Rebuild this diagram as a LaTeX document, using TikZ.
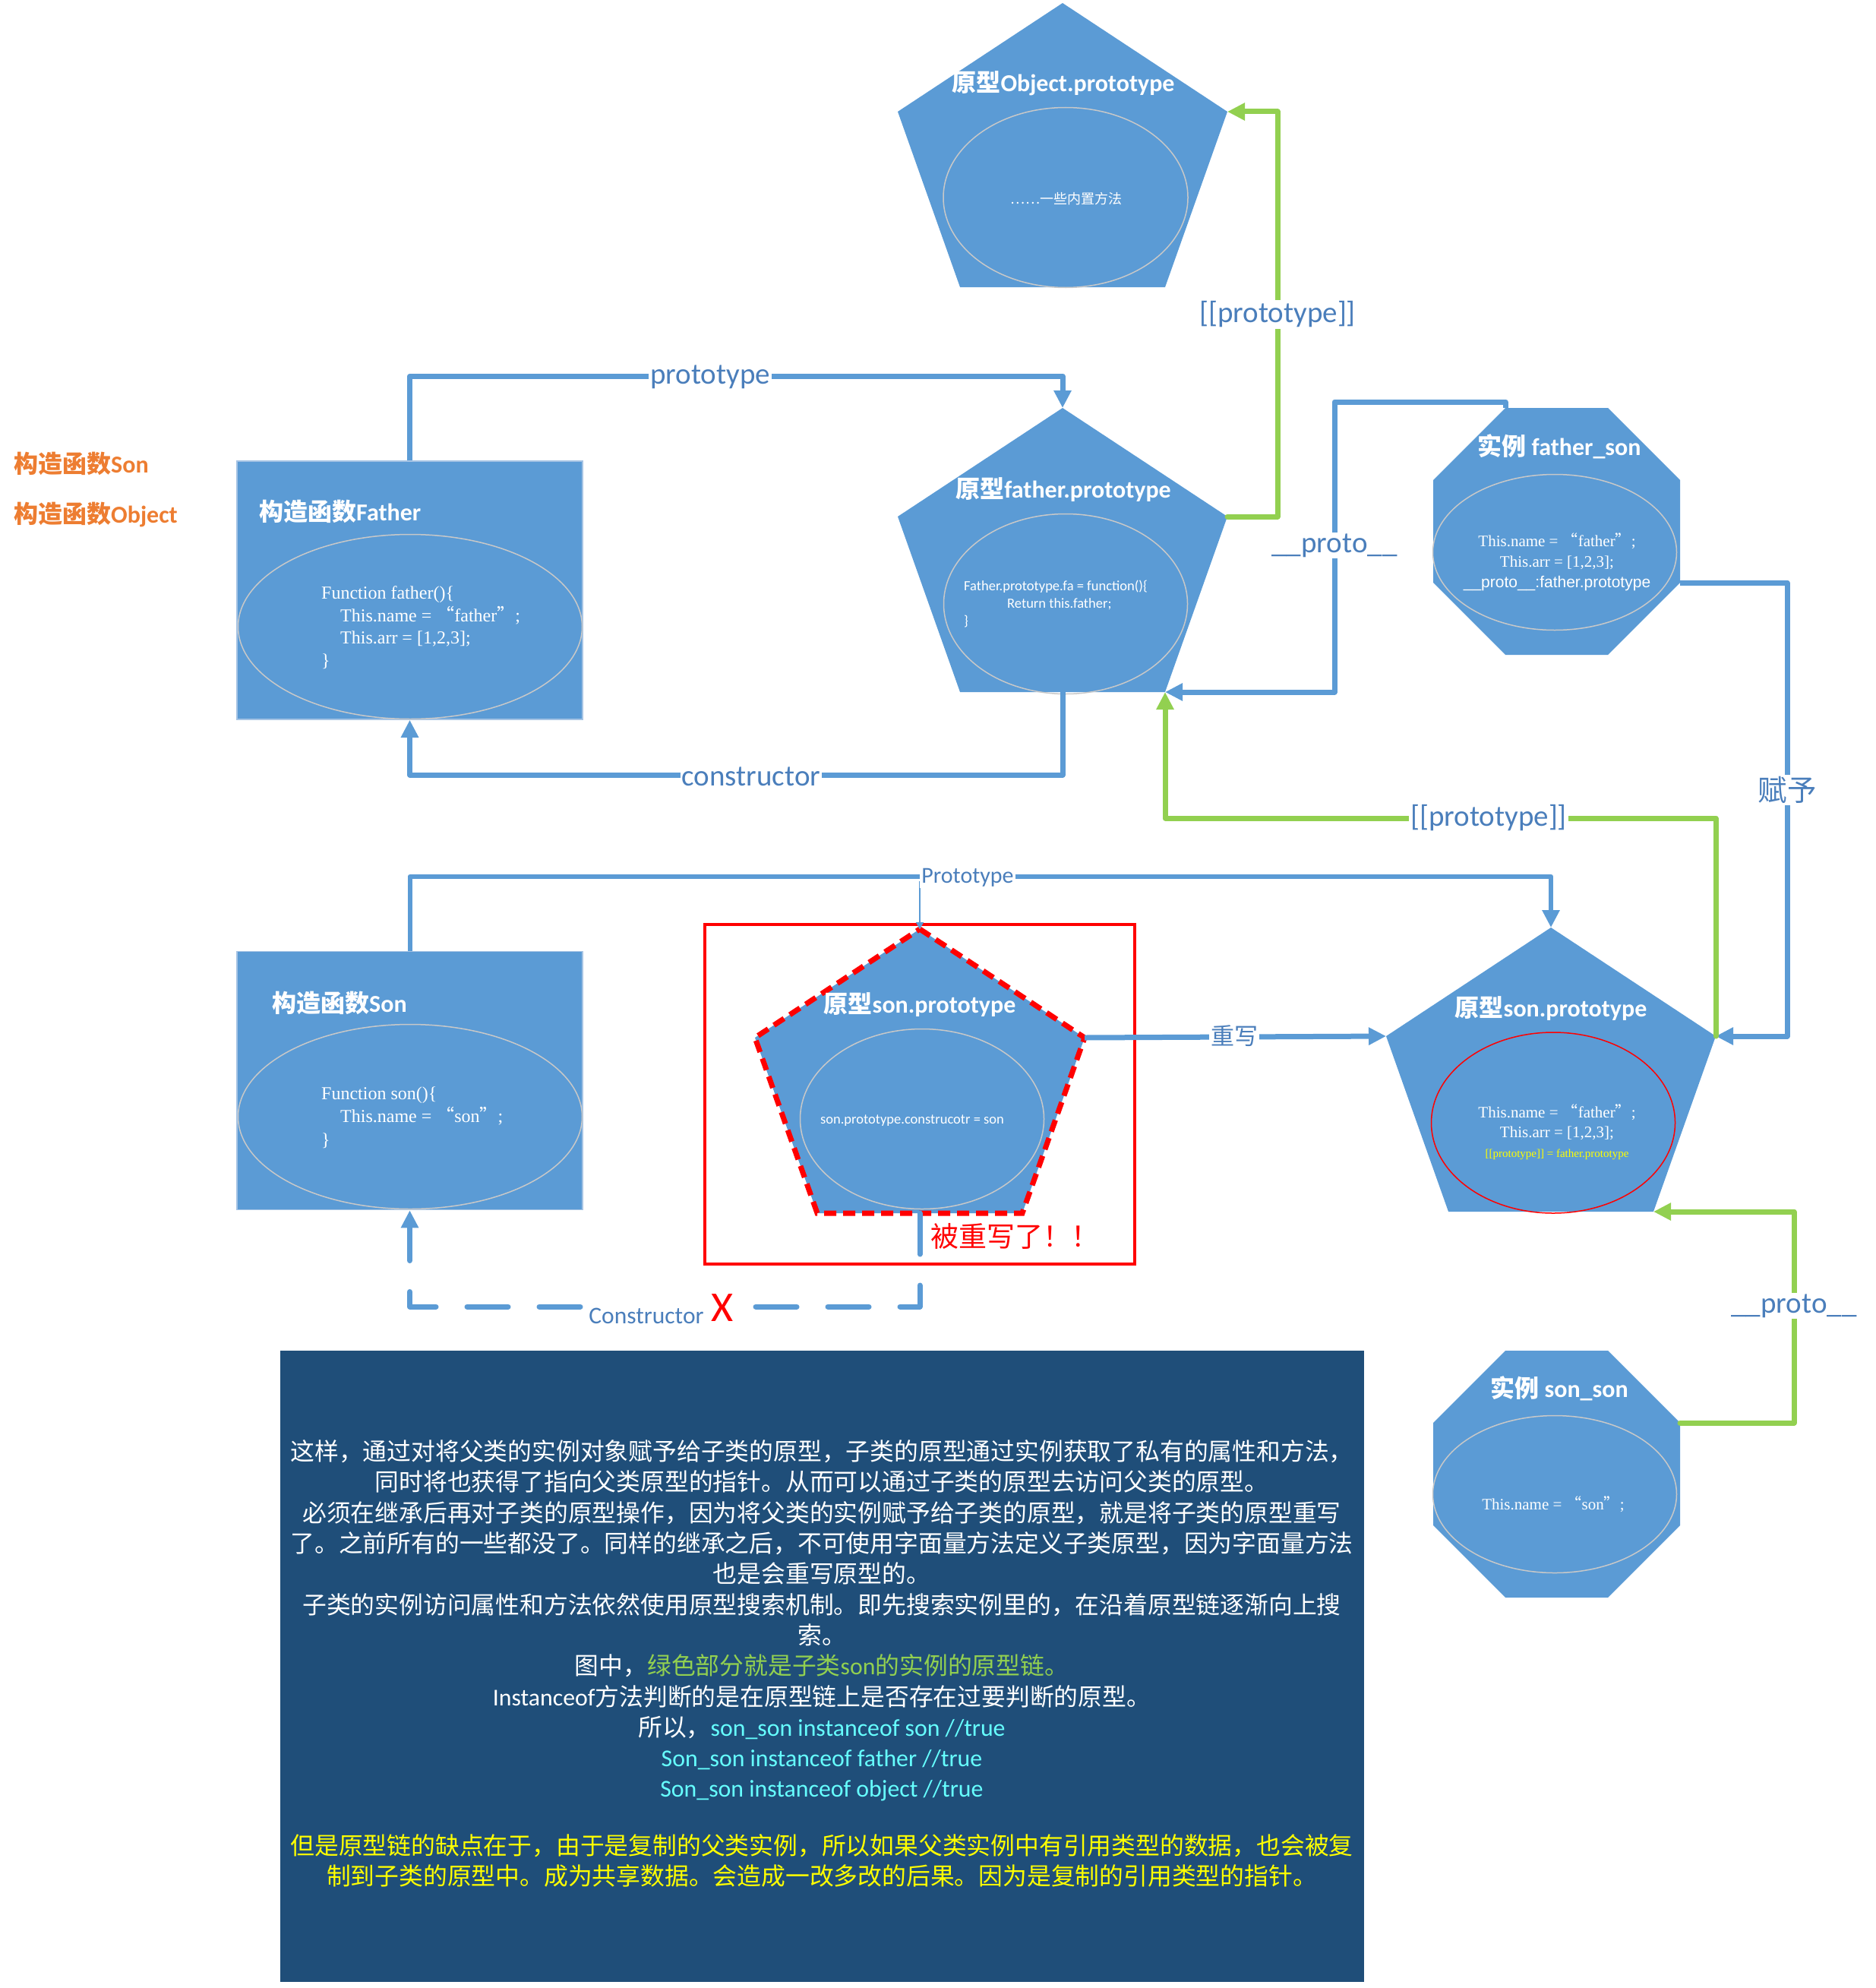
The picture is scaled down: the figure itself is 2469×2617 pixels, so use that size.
\documentclass[tikz,border=0pt]{standalone}
\usepackage{fontspec}
\setmainfont{Carlito}
\newfontfamily\cjk{Noto Sans CJK SC}
\newfontfamily\tnr{Liberation Serif}
\newfontfamily\ars{Liberation Sans}
\usetikzlibrary{arrows.meta,shapes.geometric,calc}

\definecolor{shapeblue}{RGB}{91,155,213}
\definecolor{labelblue}{RGB}{74,126,187}
\definecolor{chaingreen}{RGB}{146,208,80}
\definecolor{notebg}{RGB}{31,78,121}
\definecolor{hintorange}{RGB}{237,125,49}
\definecolor{rimgray}{RGB}{200,200,200}
\definecolor{boxrim}{RGB}{165,195,228}
\definecolor{codecyan}{RGB}{102,255,255}
\definecolor{codeyellow}{RGB}{255,255,0}

\newcommand\zh[1]{{\cjk #1}}
\newcommand\fsz[2]{\fontsize{#1}{#2}\selectfont}

% pentagon: name, centre x, top y (434 wide, 374 high)
\newcommand\pentagonshape[3]{%
  \coordinate (#1-t) at (#2,#3);
  \coordinate (#1-l) at ({#2-217},{#3+143});
  \coordinate (#1-r) at ({#2+217},{#3+143});
  \coordinate (#1-bl) at ({#2-135},{#3+374});
  \coordinate (#1-br) at ({#2+135},{#3+374});
  \coordinate (#1-b) at (#2,{#3+374});
  \fill[shapeblue] (#1-t) -- (#1-r) -- (#1-br) -- (#1-bl) -- (#1-l) -- cycle;
}
% octagon: name, left x, top y (325 square, corners cut by 95)
\newcommand\octagonshape[3]{%
  \coordinate (#1-tl) at ({#2+95},#3);
  \coordinate (#1-tr) at ({#2+230},#3);
  \coordinate (#1-rt) at ({#2+325},{#3+95});
  \coordinate (#1-rb) at ({#2+325},{#3+230});
  \coordinate (#1-br) at ({#2+230},{#3+325});
  \coordinate (#1-bl) at ({#2+95},{#3+325});
  \coordinate (#1-lb) at (#2,{#3+230});
  \coordinate (#1-lt) at (#2,{#3+95});
  \fill[shapeblue] (#1-tl) -- (#1-tr) -- (#1-rt) -- (#1-rb) -- (#1-br) -- (#1-bl) -- (#1-lb) -- (#1-lt) -- cycle;
}

\tikzset{
  ctorbox/.style={fill=shapeblue, draw=boxrim, line width=1.5pt, minimum width=455pt, minimum height=340pt, inner sep=0pt},
  rim/.style={ellipse, draw=rimgray, line width=1.5pt, inner sep=0pt},
  title/.style={text=white, font=\fsz{32}{38}\bfseries, inner sep=0pt},
  code/.style={text=white, inner sep=0pt},
  link/.style={draw=shapeblue, line width=7pt, line join=round, -{Triangle[length=23pt,width=22pt]}},
  greenlink/.style={draw=chaingreen, line width=7pt, line join=round, line cap=round, -{Triangle[length=23pt,width=22pt]}},
  lbl/.style={fill=white, text=labelblue, inner sep=2pt, font=\fsz{39}{44}},
  hint/.style={anchor=west, text=hintorange, font=\fsz{32}{38}\bfseries, inner sep=0pt},
}

\begin{document}
\begin{tikzpicture}[x=1pt, y=-1pt]
\useasboundingbox (0,0) rectangle (2469,2617);

% ---------- side hints ----------
\node[hint] (hintson) at (18,610) {\zh{构造函数}Son};
\node[hint] (hintobj) at (18,678) {\zh{构造函数}Object};

% ---------- Object.prototype ----------
\pentagonshape{op}{1399}{4}
\node[rim, minimum width=322pt, minimum height=237pt] (op-rim) at (1403,260) {};
\node[title] (op-title) at (1400,110) {\zh{原型}Object.prototype};
\node[code, font=\cjk\fsz{18}{22}] (op-code) at (1404,262) {……一些内置方法};

% ---------- constructor Father ----------
\node[ctorbox] (father) at (539.5,777) {};
\node[rim, minimum width=453pt, minimum height=243pt] (father-rim) at (540,825) {};
\node[title, anchor=west] (father-title) at (341,673) {\zh{构造函数}Father};
\node[code, anchor=west, align=left, font=\tnr\fsz{24}{29.5}] (father-code) at (423,826)
  {Function father()\{\\
   \hspace*{25pt}This.name = \zh{“}father\zh{”};\\
   \hspace*{25pt}This.arr = [1,2,3];\\
   \}};

% ---------- father.prototype ----------
\pentagonshape{fp}{1399}{537}
\node[rim, minimum width=321pt, minimum height=237pt] (fp-rim) at (1403,795) {};
\node[title] (fp-title) at (1400,645) {\zh{原型}father.prototype};
\node[code, anchor=west, align=left, font=\fsz{18.5}{23}] (fp-code) at (1269,795)
  {Father.prototype.fa = function()\{\\
   \hspace*{57pt}Return this.father;\\
   \}};

% ---------- instance father_son ----------
\octagonshape{fs}{1887}{537}
\node[rim, minimum width=321pt, minimum height=205pt] (fs-rim) at (2047,727) {};
\node[title] (fs-title) at (2053,588) {\zh{实例} father\_son};
\node[code, align=center, font=\tnr\fsz{21}{27}] (fs-code) at (2050,740)
  {This.name = \zh{“}father\zh{”};\\
   This.arr = [1,2,3];\\
   {\ars \_\_proto\_\_:father.prototype}};

% ---------- constructor Son ----------
\node[ctorbox] (son) at (539.5,1422.5) {};
\node[rim, minimum width=453pt, minimum height=243pt] (son-rim) at (540,1470) {};
\node[title, anchor=west] (son-title) at (358,1320) {\zh{构造函数}Son};
\node[code, anchor=west, align=left, font=\tnr\fsz{24}{30.5}] (son-code) at (423,1471)
  {Function son()\{\\
   \hspace*{25pt}This.name = \zh{“}son\zh{”};\\
   \}};

% ---------- son.prototype (rewritten) ----------
\node[draw=red, line width=4pt, minimum width=566pt, minimum height=447pt, inner sep=0pt] (redframe) at (1211,1440.5) {};
\pentagonshape{sl}{1211}{1223}
\node[rim, minimum width=321pt, minimum height=237pt] (sl-rim) at (1214,1473) {};
\draw[red, line width=7pt, dash pattern=on 16pt off 9pt] (sl-t) -- (sl-r) -- (sl-br) -- (sl-bl) -- (sl-l) -- cycle;
\node[title] (sl-title) at (1211,1323) {\zh{原型}son.prototype};
\node[code, font=\fsz{18.5}{22}] (sl-code) at (1201,1475) {son.prototype.construcotr = son};
\node[anchor=west, text=red, font=\cjk\fsz{37}{42}, inner sep=0pt] (rewritten) at (1225,1627) {被重写了！！};

% ---------- son.prototype (father instance) ----------
\pentagonshape{sr}{2042}{1221}
\node[ellipse, draw=red, line width=1.5pt, inner sep=0pt, minimum width=321pt, minimum height=238pt] (sr-rim) at (2045,1478) {};
\node[title] (sr-title) at (2042,1328) {\zh{原型}son.prototype};
\node[code, align=center, font=\tnr\fsz{21}{26}] (sr-code) at (2050,1490)
  {This.name = \zh{“}father\zh{”};\\
   This.arr = [1,2,3];\\
   {\color{codeyellow}\fsz{15}{26}[[prototype]] = father.prototype}};

% ---------- instance son_son ----------
\octagonshape{ss}{1887}{1778}
\node[rim, minimum width=321pt, minimum height=207pt] (ss-rim) at (2047,1967) {};
\node[title] (ss-title) at (2053,1828) {\zh{实例} son\_son};
\node[code, font=\tnr\fsz{21}{26}] (ss-code) at (2045,1980) {This.name = \zh{“}son\zh{”};};

% ---------- connectors ----------
% Father -> father.prototype
\draw[link] (father.north) -- ++(0,-111) -| (fp-t);
\node[lbl] (l-proto1) at (935,496) {prototype};
% father.prototype -> Father
\draw[link] (fp-b) -- ++(0,109) -| (father.south);
\node[lbl] (l-ctor1) at (989,1022) {constructor};
% father.prototype -> Object.prototype
\draw[greenlink] (fp-r) -- ++(66,0) |- (op-r);
\node[lbl] (l-pp1) at (1682,414) {[[prototype]]};
% father_son -> father.prototype
\coordinate (pj) at (1757,529);
\draw[link] (fs-tl) |- (pj) |- (fp-br);
\node[lbl] (l-pr1) at (1757,718) {\_\_proto\_\_};
% father_son -> son.prototype
\draw[link] (fs-rb) -- ++(141,0) |- (sr-r);
\node[lbl, font=\cjk\fsz{38.5}{44}] (l-give) at (2353,1040) {赋予};
% son.prototype -> father.prototype
\draw[greenlink] (sr-r) -- ++(0,-287) -| (fp-br);
\node[lbl] (l-pp2) at (1960,1077) {[[prototype]]};
% Son -> son.prototype
\coordinate (branch) at (1211,1160);
\draw[draw=shapeblue, line width=2pt, -{Triangle[length=9pt,width=10pt]}] (branch) -- (sl-t);
\draw[link, line width=6pt] (son.north) -- ++(0,-98) -| (sr-t);
\node[lbl, font=\fsz{30}{34}] (l-proto2) at (1274,1155) {Prototype};
% son.prototype rewritten -> son.prototype
\draw[link] (sl-r) -- (sr-l);
\node[lbl, font=\cjk\fsz{31}{36}] (l-rewrite) at (1625,1364) {重写};
% lost constructor link
\draw[link, line cap=round, dash pattern=on 54pt off 41pt] (sl-b) -- ++(0,123) -| (son.south);
\node[lbl, font=\fsz{31.5}{36}, inner sep=3pt, minimum height=46pt] (l-ctor2) at (851,1732) {Constructor};
\node[fill=white, text=red, font=\fsz{56}{60}, inner sep=4pt, minimum width=48pt] (l-x) at (951,1722) {X};
% son_son -> son.prototype
\draw[greenlink] (ss-rt) -- ++(150,0) |- (sr-br);
\node[lbl] (l-pr2) at (2362,1719) {\_\_proto\_\_};

% ---------- note ----------
\node[fill=notebg, minimum width=1427pt, minimum height=831pt, inner sep=0pt] (note) at (1082.5,2193.5) {};
\node[text=white, align=center, font=\cjk\fsz{31.8}{40.3}, inner sep=0pt] (note-text) at (1082,2190)
  {这样，通过对将父类的实例对象赋予给子类的原型，子类的原型通过实例获取了私有的属性和方法，\\
   同时将也获得了指向父类原型的指针。从而可以通过子类的原型去访问父类的原型。\\
   必须在继承后再对子类的原型操作，因为将父类的实例赋予给子类的原型，就是将子类的原型重写\\
   了。之前所有的一些都没了。同样的继承之后，不可使用字面量方法定义子类原型，因为字面量方法\\
   也是会重写原型的。\\
   子类的实例访问属性和方法依然使用原型搜索机制。即先搜索实例里的，在沿着原型链逐渐向上搜\\
   索。\\
   图中，{\color{chaingreen}绿色部分就是子类{\rmfamily son}的实例的原型链。}\\
   {\rmfamily Instanceof}方法判断的是在原型链上是否存在过要判断的原型。\\
   所以，{\color{codecyan}\rmfamily son\_son instanceof son //true}\\
   {\color{codecyan}\rmfamily Son\_son instanceof father //true}\\
   {\color{codecyan}\rmfamily Son\_son instanceof object //true}\\[35pt]
   {\color{codeyellow}但是原型链的缺点在于，由于是复制的父类实例，所以如果父类实例中有引用类型的数据，也会被复}\\
   {\color{codeyellow}制到子类的原型中。成为共享数据。会造成一改多改的后果。因为是复制的引用类型的指针。}};
\end{tikzpicture}
\end{document}
